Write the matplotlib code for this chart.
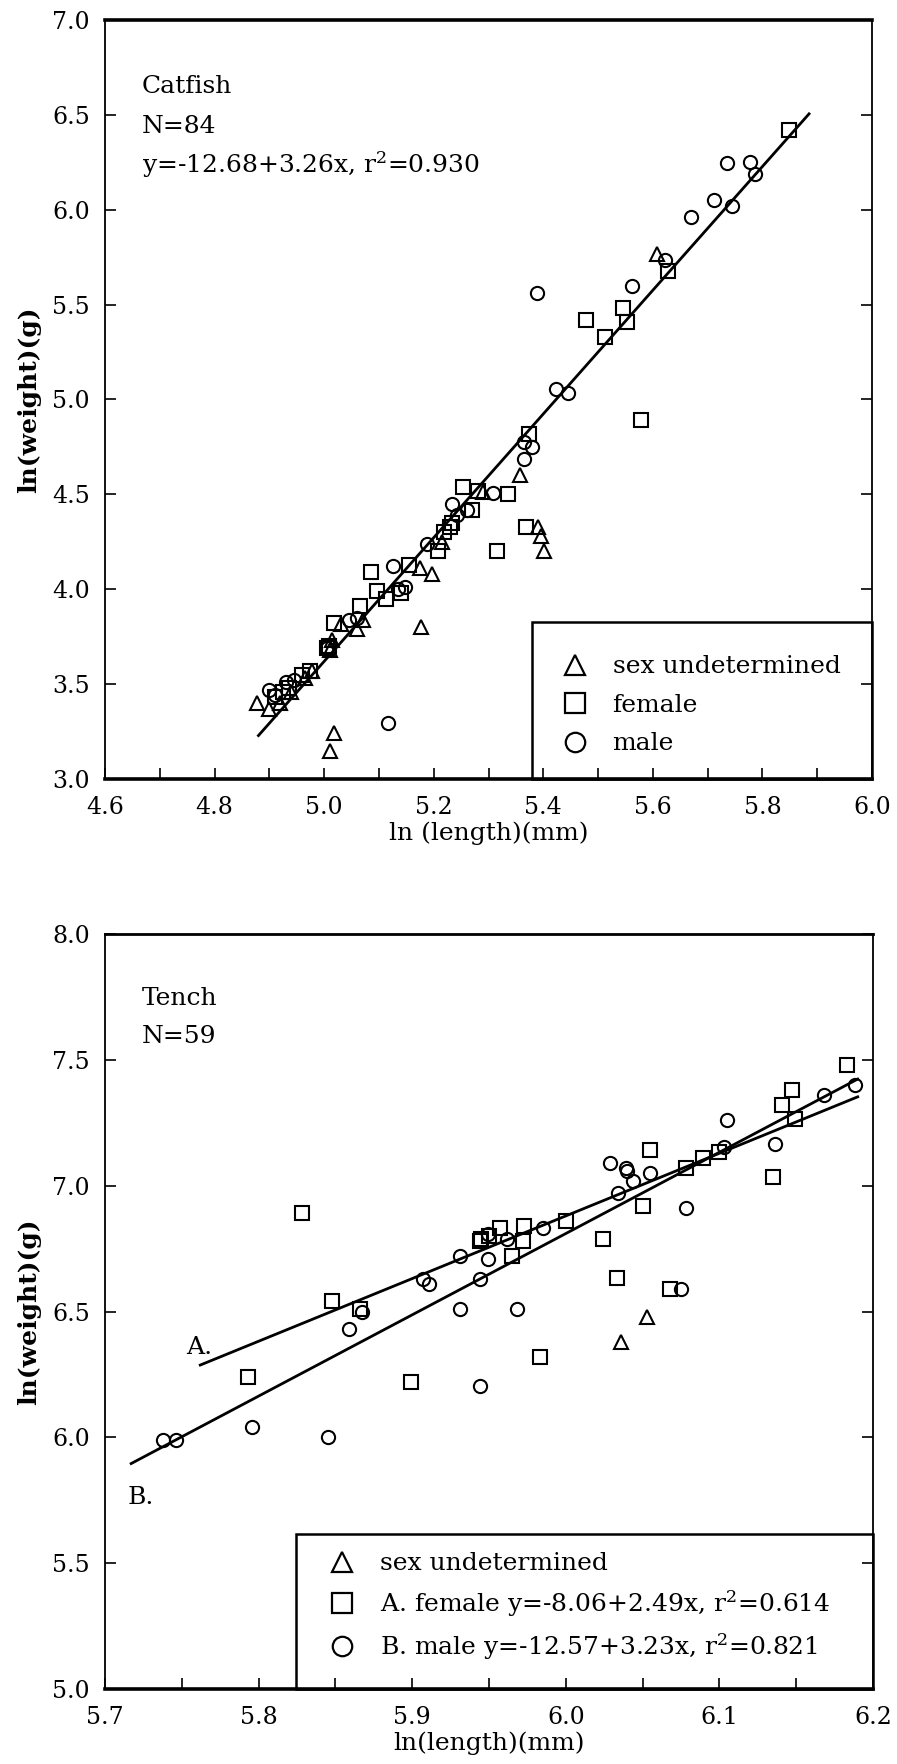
import matplotlib
matplotlib.use("Agg")
import matplotlib.pyplot as plt
from matplotlib.lines import Line2D
from matplotlib.patches import Rectangle
import numpy as np

plt.rcParams['font.family'] = ['DejaVu Serif']
plt.rcParams['mathtext.fontset'] = 'dejavuserif'

# ---- catfish: ln(length) vs ln(weight) ----
cat_female_x = [4.910, 4.925, 4.935, 4.960, 4.975, 5.005, 5.008, 5.017, 5.066, 5.085,
                5.097, 5.113, 5.140, 5.155, 5.208, 5.218, 5.230, 5.233, 5.254, 5.270,
                5.281, 5.315, 5.336, 5.369, 5.373, 5.477, 5.512, 5.545, 5.553, 5.578,
                5.628, 5.849]
cat_female_y = [3.43, 3.46, 3.48, 3.55, 3.57, 3.69, 3.70, 3.82, 3.91, 4.09,
                3.99, 3.95, 3.98, 4.13, 4.20, 4.30, 4.33, 4.35, 4.54, 4.42,
                4.52, 4.20, 4.50, 4.33, 4.82, 5.42, 5.33, 5.48, 5.41, 4.89,
                5.675, 6.42]
cat_male_x = [4.899, 4.910, 4.930, 4.945, 5.005, 5.045, 5.060, 5.116, 5.125, 5.135,
              5.147, 5.187, 5.233, 5.243, 5.260, 5.309, 5.364, 5.364, 5.379, 5.388,
              5.424, 5.445, 5.562, 5.622, 5.669, 5.712, 5.736, 5.745, 5.778, 5.787]
cat_male_y = [3.47, 3.44, 3.51, 3.52, 3.69, 3.84, 3.85, 3.293, 4.12, 4.00,
              4.01, 4.24, 4.45, 4.39, 4.42, 4.505, 4.776, 4.688, 4.75, 5.56,
              5.056, 5.035, 5.596, 5.735, 5.963, 6.05, 6.245, 6.018, 6.25, 6.19]
cat_undet_x = [4.877, 4.900, 4.920, 4.940, 4.965, 4.977, 5.010, 5.010, 5.014, 5.017,
               5.031, 5.060, 5.070, 5.175, 5.177, 5.197, 5.215, 5.290, 5.358, 5.390,
               5.396, 5.402, 5.607]
cat_undet_y = [3.40, 3.37, 3.40, 3.46, 3.53, 3.57, 3.68, 3.15, 3.73, 3.24,
               3.815, 3.79, 3.84, 4.11, 3.80, 4.08, 4.25, 4.51, 4.60, 4.33,
               4.28, 4.20, 5.766]
cat_fit = (-12.68, 3.26)       # intercept, slope
cat_fit_range = [4.88, 5.885]

# ---- tench ----
tench_female_x = [5.793, 5.828, 5.848, 5.866, 5.899, 5.944, 5.945, 5.950, 5.957, 5.965,
                  5.972, 5.973, 5.983, 6.000, 6.024, 6.033, 6.050, 6.055, 6.068, 6.078,
                  6.089, 6.100, 6.135, 6.141, 6.147, 6.149, 6.183]
tench_female_y = [6.24, 6.89, 6.54, 6.51, 6.22, 6.78, 6.79, 6.80, 6.83, 6.72,
                  6.78, 6.84, 6.32, 6.86, 6.79, 6.635, 6.92, 7.14, 6.59, 7.07,
                  7.11, 7.135, 7.035, 7.32, 7.38, 7.265, 7.48]
tench_male_x = [5.738, 5.746, 5.796, 5.845, 5.859, 5.867, 5.907, 5.911, 5.931, 5.931,
                5.944, 5.944, 5.949, 5.949, 5.962, 5.968, 5.985, 6.029, 6.034, 6.039,
                6.040, 6.044, 6.055, 6.075, 6.078, 6.103, 6.105, 6.136, 6.168, 6.188]
tench_male_y = [5.99, 5.99, 6.04, 6.00, 6.43, 6.50, 6.63, 6.61, 6.72, 6.51,
                6.63, 6.205, 6.81, 6.71, 6.79, 6.51, 6.83, 7.09, 6.97, 7.07,
                7.06, 7.02, 7.05, 6.59, 6.91, 7.155, 7.26, 7.165, 7.36, 7.40]
tench_undet_x = [6.036, 6.053]
tench_undet_y = [6.38, 6.48]
tench_fit_a = (-8.06, 2.49)
tench_fit_a_range = [5.762, 6.19]
tench_fit_b = (-12.57, 3.23)
tench_fit_b_range = [5.717, 6.19]

FS = 18
mk = dict(linestyle='none', markerfacecolor='none', markeredgecolor='black',
          markeredgewidth=1.5, markersize=9.5)


def style_axes(ax, top_lw, bottom_lw):
    for side in ['left', 'right']:
        ax.spines[side].set_linewidth(1.3)
    ax.spines['top'].set_linewidth(top_lw)
    ax.spines['bottom'].set_linewidth(bottom_lw)
    ax.tick_params(axis='both', which='both', direction='in', labelsize=17,
                   width=1.2, length=8)
    ax.tick_params(axis='y', right=True, pad=11)
    ax.tick_params(axis='x', pad=12)


def draw_fit(ax, coef, xr):
    xs = np.array(xr)
    ax.plot(xs, coef[0] + coef[1] * xs, color='black', lw=2)


def legend_box(ax, x0, y0):
    ax.add_patch(Rectangle((x0, 0), 1 - x0, y0, transform=ax.transAxes,
                           fill=False, edgecolor='black', lw=1.8, clip_on=False, zorder=3))


def legend_handles():
    return [Line2D([], [], marker=m, linestyle='none', markerfacecolor='none',
                   markeredgecolor='black', markeredgewidth=1.6, markersize=14)
            for m in ['^', 's', 'o']]


fig = plt.figure(figsize=(8.97, 17.64), dpi=100)

# top panel
ax1 = fig.add_axes([0.1171, 0.5584, 0.8551, 0.4303])
ax1.plot(cat_undet_x, cat_undet_y, marker='^', **mk)
ax1.plot(cat_female_x, cat_female_y, marker='s', **mk)
ax1.plot(cat_male_x, cat_male_y, marker='o', **mk)
draw_fit(ax1, cat_fit, cat_fit_range)
ax1.set_xlim(4.6, 6.0)
ax1.set_ylim(3.0, 7.0)
ax1.set_xticks(np.arange(4.6, 6.01, 0.2))
ax1.set_xticks(np.arange(4.7, 6.0, 0.2), minor=True)
ax1.set_yticks(np.arange(3.0, 7.01, 0.5))
ax1.xaxis.set_major_formatter(matplotlib.ticker.FormatStrFormatter('%.1f'))
ax1.yaxis.set_major_formatter(matplotlib.ticker.FormatStrFormatter('%.1f'))
style_axes(ax1, 2.6, 2.6)
ax1.set_xlabel('ln (length)(mm)', fontsize=FS, labelpad=2)
ax1.set_ylabel('ln(weight)(g)', fontsize=FS, fontweight='bold', labelpad=8)
ax1.text(0.048, 0.912, 'Catfish', transform=ax1.transAxes, fontsize=FS, va='center')
ax1.text(0.048, 0.860, 'N=84', transform=ax1.transAxes, fontsize=FS, va='center')
ax1.text(0.048, 0.810, 'y=-12.68+3.26x, r$^{2}$=0.930', transform=ax1.transAxes,
         fontsize=FS, va='center')
legend_box(ax1, 0.557, 0.207)
ax1.legend(legend_handles(), ['sex undetermined', 'female', 'male'], loc='upper left',
           bbox_to_anchor=(0.5965, 0.163), frameon=False, fontsize=FS,
           handlelength=1.0, handletextpad=1.0, labelspacing=0.62,
           borderpad=0, borderaxespad=0)

# bottom panel
ax2 = fig.add_axes([0.1171, 0.0425, 0.8562, 0.4280])
ax2.plot(tench_undet_x, tench_undet_y, marker='^', **mk)
ax2.plot(tench_female_x, tench_female_y, marker='s', **mk)
ax2.plot(tench_male_x, tench_male_y, marker='o', **mk)
draw_fit(ax2, tench_fit_a, tench_fit_a_range)
draw_fit(ax2, tench_fit_b, tench_fit_b_range)
ax2.set_xlim(5.7, 6.2)
ax2.set_ylim(5.0, 8.0)
ax2.set_xticks(np.arange(5.7, 6.21, 0.1))
ax2.set_xticks(np.arange(5.75, 6.2, 0.1), minor=True)
ax2.set_yticks(np.arange(5.0, 8.01, 0.5))
ax2.xaxis.set_major_formatter(matplotlib.ticker.FormatStrFormatter('%.1f'))
ax2.yaxis.set_major_formatter(matplotlib.ticker.FormatStrFormatter('%.1f'))
style_axes(ax2, 2.0, 2.6)
ax2.set_xlabel('ln(length)(mm)', fontsize=FS, labelpad=2)
ax2.set_ylabel('ln(weight)(g)', fontsize=FS, fontweight='bold', labelpad=8)
ax2.text(0.048, 0.915, 'Tench', transform=ax2.transAxes, fontsize=FS, va='center')
ax2.text(0.048, 0.864, 'N=59', transform=ax2.transAxes, fontsize=FS, va='center')
ax2.text(0.105, 0.452, 'A.', transform=ax2.transAxes, fontsize=FS, va='center')
ax2.text(0.029, 0.254, 'B.', transform=ax2.transAxes, fontsize=FS, va='center')
legend_box(ax2, 0.249, 0.205)
ax2.legend(legend_handles(), ['sex undetermined',
                              'A. female y=-8.06+2.49x, r$^{2}$=0.614',
                              'B. male y=-12.57+3.23x, r$^{2}$=0.821'],
           loc='upper left', bbox_to_anchor=(0.2923, 0.181), frameon=False,
           fontsize=FS, handlelength=1.0, handletextpad=1.0, labelspacing=0.5,
           borderpad=0, borderaxespad=0)

fig.savefig('out.png', dpi=100)
